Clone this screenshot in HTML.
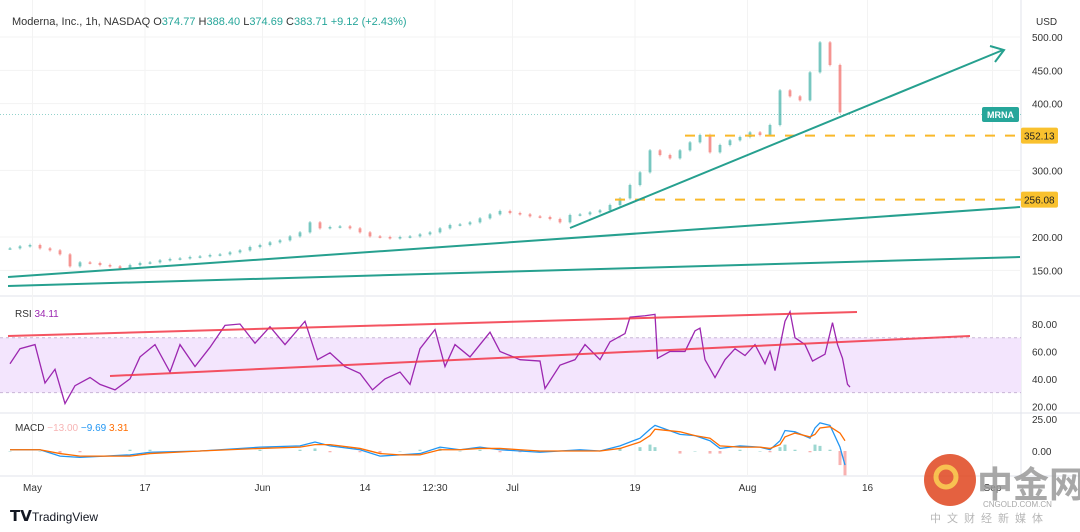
<!DOCTYPE html>
<html><head><meta charset="utf-8"><style>
body{margin:0;background:#fff;font-family:"Liberation Sans",sans-serif}
svg{display:block}
</style></head><body>
<svg id="c" width="1080" height="532" xmlns="http://www.w3.org/2000/svg">
<rect width="1080" height="532" fill="#fff"/>
<g id="grid"></g>
<g id="main"></g>
<g id="rsi"></g>
<g id="macd"></g>
<g id="axes"></g>
<text x="12" y="25" font-size="11" fill="#333">Moderna, Inc., 1h, NASDAQ <tspan fill="#333">O</tspan><tspan fill="#26a69a">374.77</tspan> <tspan>H</tspan><tspan fill="#26a69a">388.40</tspan> <tspan>L</tspan><tspan fill="#26a69a">374.69</tspan> <tspan>C</tspan><tspan fill="#26a69a">383.71</tspan> <tspan fill="#26a69a">+9.12 (+2.43%)</tspan></text>
<text x="15" y="317" font-size="10" fill="#333">RSI <tspan fill="#9c27b0">34.11</tspan></text>
<text x="15" y="431" font-size="10" fill="#333">MACD <tspan fill="#f7b4b4">−13.00</tspan> <tspan fill="#2196f3">−9.69</tspan> <tspan fill="#ff6d00">3.31</tspan></text>
<text x="1036" y="25" font-size="10" fill="#333">USD</text>
<g><text x="10" y="521" font-size="15" font-weight="bold" fill="#131722">𝗧𝗩</text><text x="32" y="521" font-size="12" fill="#131722">TradingView</text></g>
<g opacity="0.85">
<circle cx="950" cy="480" r="26" fill="#e0461f"/><circle cx="946" cy="477" r="10" fill="none" stroke="#f7b733" stroke-width="5"/>
<text x="977" y="497" font-size="36" font-weight="bold" fill="#999" font-family="'Noto Sans CJK SC',sans-serif">中金网</text>
<text x="983" y="507" font-size="8" fill="#999">CNGOLD.COM.CN</text>
<text x="930" y="522" font-size="11" fill="#aaa" letter-spacing="6" font-family="'Noto Sans CJK SC',sans-serif">中文财经新媒体</text>
</g>
</svg>
<script>
const closes=[183,186,188,183,180,174,156,162,161,158,156,153,158,161,162,165,167,168,170,171,173,174,177,180,185,188,192,195,201,207,222,213,215,216,213,207,201,200,198,200,201,204,207,213,218,219,222,228,234,239,236,234,231,230,227,222,233,234,237,240,248,258,278,297,330,323,318,330,342,353,327,338,345,350,357,353,368,420,411,405,447,492,458,387];
const rsiBars=[0,4,10,14,18,22,26,32,36,42,48,52,58,64,68,74,80,86,92,98,104,110,118,123,128,134,140,145,150,156,160,164,170,174,178,184,188,192,196,204,212,214,220,226,230,236,240,246,248,254,258,259,264,270,274,276,278,282,286,290,294,298,302,304,306,310,312,314,318,321,326,329,331,333,335,336];
const rsiVals=[51,62,65,37,47,22,35,41,36,32,40,56,65,45,65,49,63,79,80,66,78,65,82,54,59,49,44,32,40,45,36,62,76,49,65,56,65,74,60,54,53,33,50,54,65,54,67,73,85,86,87,55,60,60,75,77,54,41,54,62,57,65,51,60,46,82,89,70,65,53,58,81,65,55,36,34];
const macdBars=[0,12,20,28,48,56,76,100,116,122,128,140,148,156,164,172,180,188,196,204,212,220,228,236,244,252,256,258,268,274,280,284,292,300,304,308,310,314,320,322,324,328,332,334];
const macdVals=[1,1,-4,-5,-3,-1,0,3,4,7,4,1,-4,-3,-2,3,1,3,1,0,-1,0,1,0,4,10,17,20,13,12,8,2,4,3,1,8,16,15,10,18,22,20,3,-11];
const signalVals=[1,1,-2,-4,-4,-2,0,2,3,5,5,2,-2,-3,-3,1,1,2,2,1,0,0,0,0,2,7,12,17,15,12,10,4,3,3,2,5,11,14,11,13,18,19,14,8];
const priceTicks=[500,450,400,300,200,150];
const rsiTicks=[80,60,40,20];
const macdTicks=[25,0];
const timeLabels=["May","17","Jun","14","12:30","Jul","19","Aug","16","Sep"];
const timeBars=[9,54,101,142,170,201,250,295,343,393];
const levels=[352.13,256.08];

const NS="http://www.w3.org/2000/svg";
function el(p,t,a){const e=document.createElementNS(NS,t);for(const k in a)e.setAttribute(k,a[k]);p.appendChild(e);return e;}
const py=p=>37+(500-p)*0.6667;
const ry=v=>324+(80-v)*1.372;
const my=v=>451-v*1.28;
const bx=b=>10+b*2.5;
const cx=i=>bx(i*4);
const grid=document.getElementById('grid'),main=document.getElementById('main'),rsi=document.getElementById('rsi'),macd=document.getElementById('macd'),axes=document.getElementById('axes');

[296,413,476].forEach(y=>{const l=el(grid,'line',{x1:0,x2:1080,y1:y,y2:y,stroke:'#e0e3eb'});

});
el(grid,'line',{x1:1021,x2:1021,y1:0,y2:476,stroke:'#e0e3eb'});
timeBars.forEach(b=>{const l=el(grid,'line',{x1:bx(b),x2:bx(b),y1:0,y2:476,stroke:'#f3f3f3'});

});
priceTicks.forEach(p=>{const l=el(grid,'line',{x1:0,x2:1021,y1:py(p),y2:py(p),stroke:'#f3f3f3'});


const t=el(axes,'text',{x:1032,y:py(p)+4,'font-size':10,fill:'#333'});t.textContent=p.toFixed(2);

});
rsiTicks.forEach(v=>{const t=el(axes,'text',{x:1032,y:ry(v)+4,'font-size':10,fill:'#333'});t.textContent=v.toFixed(2);

});
macdTicks.forEach(v=>{const t=el(axes,'text',{x:1032,y:my(v)+4,'font-size':10,fill:'#333'});t.textContent=v.toFixed(2);

});
timeLabels.forEach((s,i)=>{const t=el(axes,'text',{x:bx(timeBars[i]),y:491,'font-size':10,fill:'#333','text-anchor':'middle'});t.textContent=s;

});

closes.forEach((c,i)=>{const o=i?closes[i-1]:c;const x=cx(i);const up=c>=o;const col=up?'#26a69a':'#ef5350';
const g=el(main,'g',{});


const hi=Math.max(o,c)+2,lo=Math.min(o,c)-2;
el(g,'line',{x1:x,x2:x,y1:py(hi),y2:py(lo),stroke:col,'stroke-opacity':0.5});
el(g,'rect',{x:x-1.5,y:py(Math.max(o,c)),width:3,height:Math.max(1.5,Math.abs(py(o)-py(c))),fill:col,'fill-opacity':0.5});});
const cp=el(main,'line',{x1:0,x2:1021,y1:py(383.71),y2:py(383.71),stroke:'#26a69a','stroke-dasharray':'1 2','stroke-opacity':0.5});


const mr=el(main,'rect',{x:982,y:107,width:37,height:15,fill:'#26a69a',rx:2});


const mt=el(main,'text',{x:987,y:118,'font-size':9,fill:'#fff','font-weight':'bold'});mt.textContent='MRNA';
levels.forEach((l,i)=>{const x0=i?615:685;const ln=el(main,'line',{x1:x0,x2:1021,y1:py(l),y2:py(l),stroke:'#f9b92a','stroke-width':2,'stroke-dasharray':'10 10'});


const r=el(axes,'rect',{x:1021,y:py(l)-8,width:37,height:16,fill:'#f9c12e',rx:2});


const t=el(axes,'text',{x:1024,y:py(l)+4,'font-size':10,fill:'#222'});t.textContent=l.toFixed(2);});
[[8,277,1020,207],[8,286,1020,257],[570,228,1003,50]].forEach(a=>{const l=el(main,'line',{x1:a[0],y1:a[1],x2:a[2],y2:a[3],stroke:'#26a08f','stroke-width':2});

});
el(main,'polyline',{points:'990,46 1004,50 995,62',fill:'none',stroke:'#26a08f','stroke-width':2});

const band=el(rsi,'rect',{x:0,y:ry(70),width:1021,height:ry(30)-ry(70),fill:'#f3e5fd'});


[70,30].forEach(v=>el(rsi,'line',{x1:0,x2:1021,y1:ry(v),y2:ry(v),stroke:'#c9b5d6','stroke-dasharray':'3 3'}));
const rp=el(rsi,'polyline',{points:rsiVals.map((v,i)=>bx(rsiBars[i])+','+ry(v)).join(' '),fill:'none',stroke:'#9c27b0','stroke-width':1.3});


[[8,336,857,312],[110,376,970,336]].forEach(a=>{const l=el(rsi,'line',{x1:a[0],y1:a[1],x2:a[2],y2:a[3],stroke:'#f23645','stroke-width':2,'stroke-opacity':0.85});

});

macdVals.forEach((v,i)=>{const h=v-signalVals[i];const x=bx(macdBars[i]);
const r=el(macd,'rect',{x:x-1.5,y:Math.min(my(0),my(h)),width:3,height:Math.max(0.5,Math.abs(my(h)-my(0))),fill:h>=0?'#26a69a':'#ef5350','fill-opacity':0.45});

});
const ml=el(macd,'polyline',{points:macdVals.map((v,i)=>bx(macdBars[i])+','+my(v)).join(' '),fill:'none',stroke:'#2196f3','stroke-width':1.3});


const sl=el(macd,'polyline',{points:signalVals.map((v,i)=>bx(macdBars[i])+','+my(v)).join(' '),fill:'none',stroke:'#ff6d00','stroke-width':1.3});


</script>
</body></html>
